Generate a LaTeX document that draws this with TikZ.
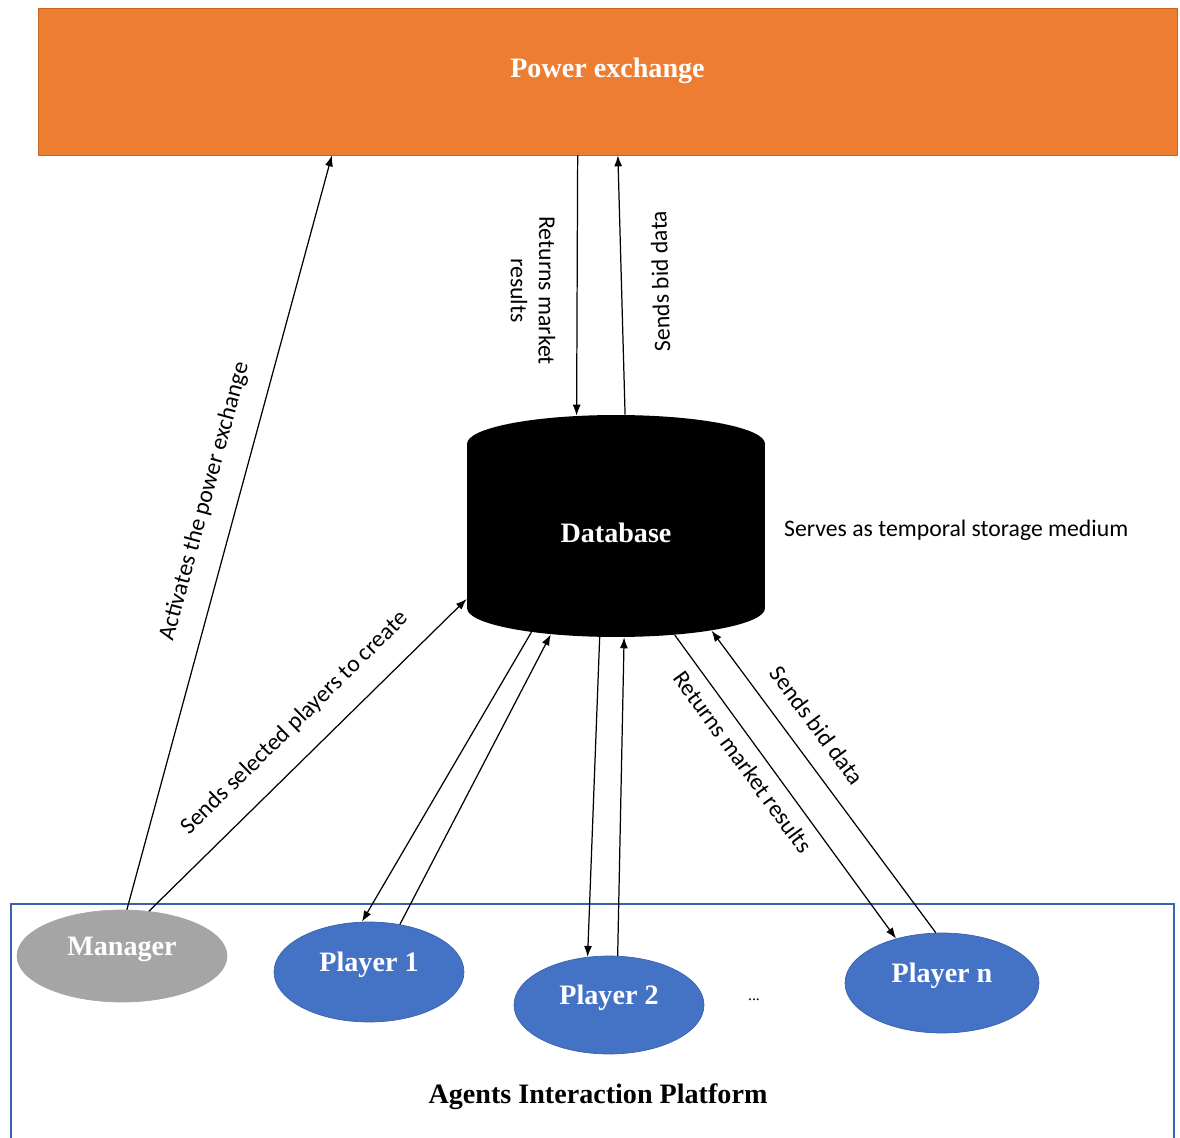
\documentclass[tikz,border=0pt]{standalone}
\usepackage{fontspec}
\setmainfont{Liberation Serif}
\newfontfamily\notefont{Carlito}
\usetikzlibrary{arrows.meta,positioning,shapes.geometric}
\definecolor{pxorange}{HTML}{ED7D31}
\definecolor{pxedge}{HTML}{C9651F}
\definecolor{agentblue}{HTML}{4472C4}
\definecolor{agentedge}{HTML}{3A62AD}
\definecolor{mgrgray}{HTML}{A5A5A5}
\tikzstyle{exchange} = [rectangle, minimum width=22.78cm, minimum height=2.94cm, fill=pxorange, draw=pxedge, text=white, font=\fontsize{16}{19}\selectfont\bfseries, text height=0.38cm, text depth=0.52cm]
\tikzstyle{agent} = [ellipse, minimum width=3.8cm, minimum height=2cm, fill=agentblue, draw=agentedge, text=white, font=\fontsize{16}{19}\selectfont\bfseries, text height=0.38cm, text depth=0.42cm]
\tikzstyle{store} = [cylinder, shape border rotate=90, aspect=0.47, minimum width=5.96cm, minimum height=4.44cm, fill=black, text=white, font=\fontsize{16}{19}\selectfont\bfseries, text height=0.39cm, text depth=0.48cm]
\tikzstyle{line} = [draw, line width=0.7pt, -{Latex[length=2.2mm,width=1.6mm]}]
\tikzstyle{note} = [font=\notefont\fontsize{13.5}{16}\selectfont]

\begin{document}
\begin{tikzpicture}[x=0.02cm,y=-0.02cm]
  \useasboundingbox (0,0) rectangle (1180,1138);
  \node (pe) [exchange] at (607.5,81.5) {Power exchange};
  \node (db) [store, anchor=shape center] at (616,526) {Database};
  \node (storenote) [note, anchor=west] at (778,530) {Serves as temporal storage medium};
  % agents platform
  \draw [agentedge, line width=0.8pt] (11,1138) |- (1174,904) -- (1174,1138);
  \node (mgr) [agent, fill=mgrgray, draw=mgrgray, minimum width=4.2cm, minimum height=1.84cm] at (122,956) {Manager};
  \node (p1) [agent] at (369,972) {Player 1};
  \node (p2) [agent, minimum height=1.96cm] at (609,1005) {Player 2};
  \node (pn) [agent, minimum width=3.88cm] at (942,983) {Player n};
  \node (dots) at (754,1000) {\fontsize{9}{10}\selectfont...};
  \node (platform) at (598,1097) {\fontsize{16}{19}\selectfont\bfseries Agents Interaction Platform};
  % exchange <-> database
  \draw [line] (pe.248) -- node [note, sloped, allow upside down, below, align=center, inner sep=12pt, pos=0.52] {Returns market\\results} (db.107.5);
  \draw [line] (db.86) -- node [note, sloped, allow upside down, below, inner sep=17pt, pos=0.51] {Sends bid data} (pe.278);
  % manager
  \draw [line] (mgr.84) -- node [note, sloped, above, inner sep=12pt, pos=0.53] {Activates the power exchange} (pe.195);
  \draw [line] (mgr.59) -- node [note, sloped, above, inner sep=12pt, pos=0.53] {Sends selected players to create} (db.200);
  % players
  \draw [line] (db.226) -- (p1.98);
  \draw [line] (p1.57) -- (db.234);
  \draw [line] (db.260) -- (p2.114);
  \draw [line] (p2.80) -- (db.275);
  \draw [line] (db.303.5) -- node [note, sloped, below, inner sep=6pt, pos=0.38] {Returns market results} (pn.136);
  \draw [line] (pn.97) -- node [note, sloped, above, inner sep=11pt, pos=0.63] {Sends bid data} (db.318);
\end{tikzpicture}
\end{document}
